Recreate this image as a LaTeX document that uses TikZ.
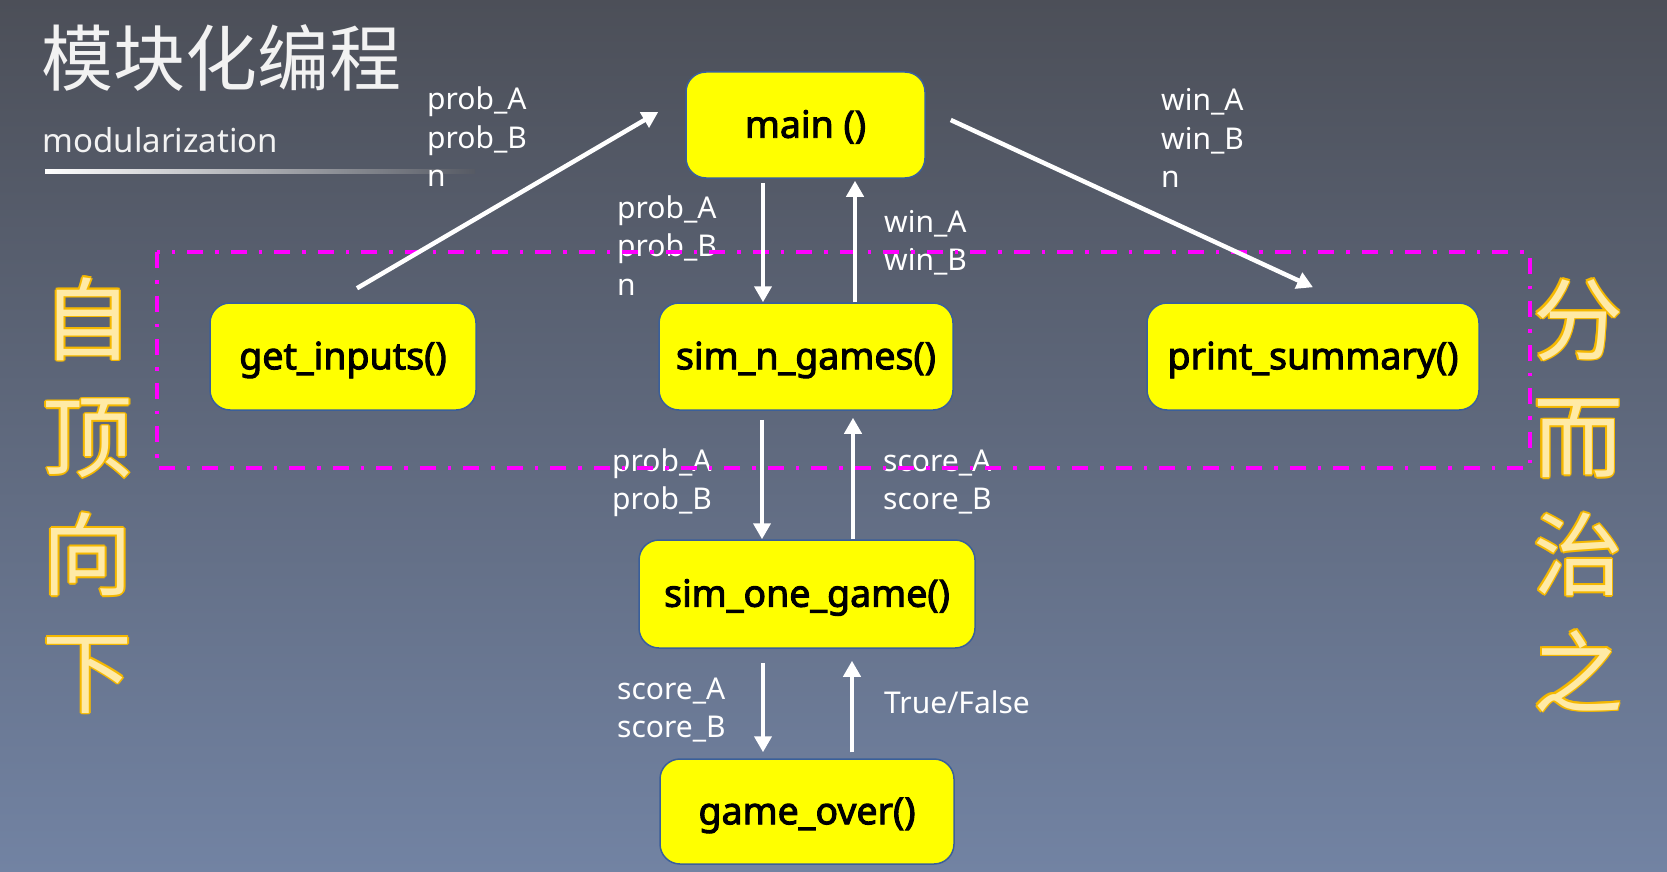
\documentclass[tikz,border=0pt]{standalone}
\usepackage{fontspec}
\setmainfont{Noto Sans}
\newfontfamily\cjk{Noto Sans CJK SC}
\newfontfamily\boxfont{Noto Sans}[FakeBold=2.6]
\usetikzlibrary{arrows.meta}

\definecolor{bgtop}{HTML}{4C4F58}
\definecolor{bgbot}{HTML}{7283A3}
\definecolor{bgline}{HTML}{565A64}
\definecolor{boxfill}{HTML}{FFFF00}
\definecolor{boxline}{HTML}{3A5F9A}
\definecolor{dashc}{HTML}{FF00FF}
\definecolor{olc}{HTML}{F5B800}
\definecolor{cjkfill}{HTML}{FFEAA6}
\definecolor{titlec}{HTML}{F2F2F2}

\newcommand\vlines[2]{\vtop{\baselineskip=#1\lineskiplimit=-1000pt\halign{##\hfil\cr#2\crcr}}}
\newcommand\vclines[2]{\vtop{\baselineskip=#1\lineskiplimit=-1000pt\halign{\hfil##\hfil\cr#2\crcr}}}
\newcommand\olo[3]{\rlap{\kern#1\raisebox{#2}{\textcolor{olc}{#3}}}}
\newcommand\outl[1]{\olo{1.7pt}{0pt}{#1}\olo{-1.7pt}{0pt}{#1}\olo{0pt}{1.7pt}{#1}\olo{0pt}{-1.7pt}{#1}\olo{1.2pt}{1.2pt}{#1}\olo{-1.2pt}{1.2pt}{#1}\olo{1.2pt}{-1.2pt}{#1}\olo{-1.2pt}{-1.2pt}{#1}\textcolor{cjkfill}{#1}}

\tikzset{
  fbox/.style={draw=boxline, line width=1.5pt, fill=boxfill, rounded corners=20pt,
    inner sep=0pt, text height=32pt, text depth=6.5pt,
    font=\boxfont\fontsize{37.5}{40}\selectfont, text=black},
  lbl/.style={anchor=base west, inner sep=0pt, text=white, font=\fontsize{30}{36}\selectfont},
  arr/.style={white, line width=4.5pt, -{Triangle[width=17pt,length=16pt]}},
  cjkv/.style={anchor=base, inner sep=0pt, font=\cjk\fontsize{90}{118}\selectfont},
  dashbox/.style={dashc, line width=4pt, dash pattern=on 16pt off 12pt on 3.5pt off 12pt},
}

\begin{document}
\begin{tikzpicture}[x=1pt,y=-1pt]
\useasboundingbox (0,0) rectangle (1667,872);
\shade[top color=bgtop, bottom color=bgbot] (0,0) rectangle (1667,872);

% title
\node[anchor=base west, inner sep=0pt, text=titlec, font=\cjk\fontsize{72}{80}\selectfont] (title) at (41,86) {模块化编程};
\node[anchor=base west, inner sep=0pt, text=titlec, font=\fontsize{33}{40}\selectfont] (sub) at (42.5,152) {modularization};
\shade[left color=white, right color=bgline] (45,169) rectangle (475,173);

% side texts
\node[cjkv] (left) at (87.5,353) {\vclines{117.7pt}{\outl{自}\cr\outl{顶}\cr\outl{向}\cr\outl{下}}};
\node[cjkv] (right) at (1578,353) {\vclines{117.7pt}{\outl{分}\cr\outl{而}\cr\outl{治}\cr\outl{之}}};

% labels
\node[lbl] (l1) at (427,110) {\vlines{38.5pt}{prob\_A\cr prob\_B\cr n}};
\node[lbl] (l2) at (1161,111) {\vlines{38.5pt}{win\_A\cr win\_B\cr n}};
\node[lbl] (l3) at (617,218) {\vlines{38.5pt}{prob\_A\cr prob\_B\cr n}};
\node[lbl] (l4) at (884,232) {\vlines{38.5pt}{win\_A\cr win\_B}};
\node[lbl] (l5) at (612,471) {\vlines{38.5pt}{prob\_A\cr prob\_B}};
\node[lbl] (l6) at (883,471) {\vlines{38.5pt}{score\_A\cr score\_B}};
\node[lbl] (l7) at (617,699) {\vlines{38.5pt}{score\_A\cr score\_B}};
\node[lbl] (l8) at (884,713) {True/False};

% dashed group
\draw[dashbox] (157,252) rectangle (1530,468);

% boxes
\node[fbox, minimum width=239pt, minimum height=106pt] (main) at (805.5,125) {main ()};
\node[fbox, minimum width=266pt, minimum height=107pt] (getin) at (343,356.5) {get\_inputs()};
\node[fbox, minimum width=294pt, minimum height=107pt] (simn) at (806,356.5) {sim\_n\_games()};
\node[fbox, minimum width=332pt, minimum height=107pt] (prints) at (1313,356.5) {print\_summary()};
\node[fbox, minimum width=336pt, minimum height=108pt] (simone) at (807,594) {sim\_one\_game()};
\node[fbox, minimum width=294pt, minimum height=105pt] (gover) at (807,811.5) {game\_over()};

% connectors
\draw[arr] ([shift={(14,-14)}]getin.north) -- ([shift={(-27,-13)}]main.west);
\draw[arr] ([shift={(25,-5)}]main.east) -- ([shift={(0,-15)}]prints.north);
\draw[arr] ([shift={(-42.5,4)}]main.south) -- ([shift={(-43,0)}]simn.north);
\draw[arr] ([shift={(49,0)}]simn.north) -- ([shift={(49.5,2)}]main.south);
\draw[arr] ([shift={(-44,9)}]simn.south) -- ([shift={(-45,0)}]simone.north);
\draw[arr] ([shift={(46,0)}]simone.north) -- ([shift={(47,7)}]simn.south);
\draw[arr] ([shift={(-44,14)}]simone.south) -- ([shift={(-44,-6)}]gover.north);
\draw[arr] ([shift={(45,-6)}]gover.north) -- ([shift={(45,12)}]simone.south);
\end{tikzpicture}
\end{document}
